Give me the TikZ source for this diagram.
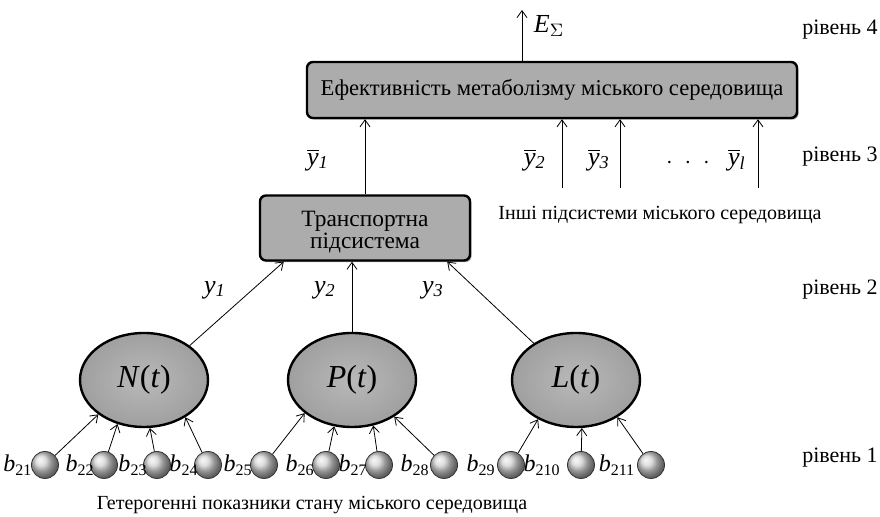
\documentclass[tikz,border=0pt]{standalone}
\usepackage{fontspec}
\setmainfont{Liberation Serif}
\newfontfamily\tnr{Liberation Serif}
\usetikzlibrary{shapes.geometric,shadows,calc,arrows.meta}

\tikzset{
  boxnode/.style={draw=black, line width=1.2pt, rounded corners=3pt, fill=gray!65, inner sep=0pt,
    drop shadow={shadow xshift=0.8pt, shadow yshift=-0.8pt, opacity=0.7}},
  ovalnode/.style={ellipse, draw=black, line width=1.2pt, inner color=gray!55, outer color=gray!75,
    minimum width=64pt, minimum height=47pt, inner sep=0pt, font=\tnr\fontsize{16}{16}\selectfont},
  ballnode/.style={circle, ball color=gray!35, draw=black!80, thin, minimum size=13.5pt, inner sep=0pt},
  lvl/.style={font=\tnr\fontsize{11}{12}\selectfont},
  lbl/.style={font=\tnr\fontsize{13}{13}\selectfont},
  blbl/.style={font=\tnr\fontsize{12}{12}\selectfont},
  note/.style={font=\tnr\fontsize{10}{10}\selectfont}
}

\begin{document}
\begin{tikzpicture}[x=0.5pt, y=-0.5pt, >={Straight Barb[length=3.5pt,width=5pt]}]
\useasboundingbox (0,0) rectangle (880,517);

% boxes
\node[boxnode, minimum width=245pt, minimum height=28pt, font=\tnr\fontsize{11.3}{12}\selectfont] (top) at (552,90) {Ефективність метаболізму міського середовища};
\node[boxnode, minimum width=105pt, minimum height=32.5pt, align=center, font=\tnr\fontsize{11.7}{10}\selectfont] (trans) at (365,228) {\rule{0pt}{12pt}Транспортна\\підсистема};

% subsystems
\node[ovalnode] (N) at (144,380) {\textit{N}(\textit{t})};
\node[ovalnode] (P) at (352,380) {\textit{P}(\textit{t})};
\node[ovalnode] (L) at (576,380) {\textit{L}(\textit{t})};

% indicators
\node[ballnode] (b21) at (45,465) {};
\node[ballnode] (b22) at (104,465) {};
\node[ballnode] (b23) at (157,465) {};
\node[ballnode] (b24) at (208,465) {};
\node[ballnode] (b25) at (264,465) {};
\node[ballnode] (b26) at (326,465) {};
\node[ballnode] (b27) at (379,465) {};
\node[ballnode] (b28) at (444,465) {};
\node[ballnode] (b29) at (511,465) {};
\node[ballnode] (b210) at (581,465) {};
\node[ballnode] (b211) at (651,465) {};

\node[blbl] (lb21) at (18,465) {\textit{b}\textsubscript{21}};
\node[blbl] (lb22) at (80,465) {\textit{b}\textsubscript{22}};
\node[blbl] (lb23) at (133,465) {\textit{b}\textsubscript{23}};
\node[blbl] (lb24) at (184,465) {\textit{b}\textsubscript{24}};
\node[blbl] (lb25) at (238,465) {\textit{b}\textsubscript{25}};
\node[blbl] (lb26) at (300,465) {\textit{b}\textsubscript{26}};
\node[blbl] (lb27) at (353,465) {\textit{b}\textsubscript{27}};
\node[blbl] (lb28) at (415,465) {\textit{b}\textsubscript{28}};
\node[blbl] (lb29) at (481,465) {\textit{b}\textsubscript{29}};
\node[blbl] (lb210) at (542,465) {\textit{b}\textsubscript{210}};
\node[blbl] (lb211) at (617,465) {\textit{b}\textsubscript{211}};

\draw[->] (b21) -- (N.217);
\draw[->] (b22) -- (N.239);
\draw[->] (b23) -- (N.277);
\draw[->] (b24) -- (N.318);
\draw[->] (b25) -- (P.215);
\draw[->] (b26) -- (P.249);
\draw[->] (b27) -- (P.295);
\draw[->] (b28) -- (P.319);
\draw[->] (b29) -- (L.226);
\draw[->] (b210) -- (L.277);
\draw[->] (b211) -- (L.318);

% level 2 outputs
\draw[->] (N.37) -- ($(trans.south west)+(25,0)$);
\draw[->] (P.north) -- (P.north |- trans.south);
\draw[->] (L.139) -- ($(trans.south east)+(-24,0)$);
\node[lbl] (y1) at (215,290) {\textit{y}\textsubscript{\textit{1}}};
\node[lbl] (y2) at (325,290) {\textit{y}\textsubscript{\textit{2}}};
\node[lbl] (y3) at (433,290) {\textit{y}\textsubscript{\textit{3}}};

% level 3 inputs
\coordinate (in2) at (562,188);
\coordinate (in3) at (620,188);
\coordinate (inl) at (758,188);
\draw[->] (trans.north) -- (trans.north |- top.south);
\draw[->] (in2) -- (in2 |- top.south);
\draw[->] (in3) -- (in3 |- top.south);
\draw[->] (inl) -- (inl |- top.south);
\node[lbl] (yb1) at (318,160) {$\overline{\textit{y}}$\textsubscript{\textit{1}}};
\node[lbl] (yb2) at (535,160) {$\overline{\textit{y}}$\textsubscript{\textit{2}}};
\node[lbl] (yb3) at (599,160) {$\overline{\textit{y}}$\textsubscript{\textit{3}}};
\node[lbl] (dots) at (688,163) {$\cdot\ \cdot\ \cdot$};
\node[lbl] (ybl) at (737,160) {$\overline{\textit{y}}$\textsubscript{\textit{l}}};

% output
\coordinate (eout) at (522,10);
\draw[->] (eout |- top.north) -- (eout);
\node[lbl] (esum) at (549,26) {\textit{E}$_\Sigma$};

% notes
\node[note] (other) at (660,215) {Інші підсистеми міського середовища};
\node[note] (hetero) at (312,505) {Гетерогенні показники стану міського середовища};

\node[lvl] (lvl4) at (840,30) {рівень 4};
\node[lvl] (lvl3) at (840,157) {рівень 3};
\node[lvl] (lvl2) at (840,290) {рівень 2};
\node[lvl] (lvl1) at (840,458) {рівень 1};
\end{tikzpicture}
\end{document}
